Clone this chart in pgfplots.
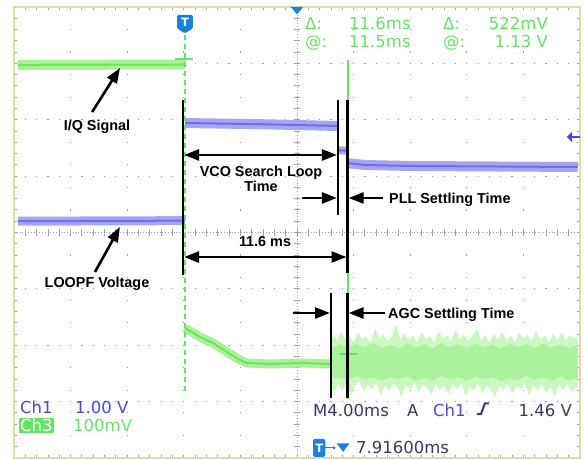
\documentclass[border=0pt]{standalone}
\usepackage{pgfplots}
\pgfplotsset{compat=1.18}
\usepackage{fontspec}
\setmainfont{Liberation Sans}
\newfontfamily\scopefont{DejaVu Sans}
\usetikzlibrary{arrows.meta}
\definecolor{grn}{RGB}{112,228,95}
\definecolor{grnl}{RGB}{168,241,150}
\definecolor{grnn}{RGB}{202,248,192}
\definecolor{grnm}{RGB}{170,242,156}
\definecolor{blu}{RGB}{110,110,232}
\definecolor{blul}{RGB}{165,165,243}
\definecolor{txtblue}{RGB}{70,70,230}
\definecolor{txtgreen}{RGB}{100,228,100}
\definecolor{scdark}{RGB}{55,55,105}
\definecolor{tblue}{RGB}{25,130,225}
\definecolor{gridc}{RGB}{155,155,195}
\definecolor{bord}{RGB}{228,218,165}
\newcommand\scopetxtfont{\scopefont\fontsize{16.5bp}{18bp}\selectfont}
\newcommand\annfont{\bfseries\fontsize{14.4bp}{15bp}\selectfont}
\newcommand\markfont{\scopefont\bfseries\fontsize{11.5bp}{12bp}\selectfont}
\tikzset{
  st/.style={font=\scopetxtfont, inner sep=0pt, text height=12bp, text depth=0bp},
  anntxt/.style={font=\annfont, text=black, inner sep=0pt, text height=10.5bp, text depth=0bp},
  arr/.style={line width=2.6bp, -{Triangle[length=15bp,width=11bp]}},
  darr/.style={line width=2.6bp, {Triangle[length=15bp,width=11bp]}-{Triangle[length=15bp,width=11bp]}},
}
\begin{document}
\begin{tikzpicture}
\begin{axis}[name=ax, scale only axis, width=566bp, height=451bp,
  xmin=-5, xmax=5, ymin=-4, ymax=4,
  axis line style={draw=none}, ticks=none, clip=false]
% ---------- graticule ----------
\pgfplotsinvokeforeach{-3,-2,-1,1,2,3}{
  \draw[gridc, line width=1.2bp, dash pattern=on 1.2bp off 10.12bp, dash phase=0.6bp] (axis cs:-5,#1) -- (axis cs:5,#1);}
\pgfplotsinvokeforeach{-4,-3,-2,-1,1,2,3,4}{
  \draw[gridc, line width=1.2bp, dash pattern=on 1.2bp off 21.35bp, dash phase=0.6bp] (axis cs:#1,-4) -- (axis cs:#1,4);}
\draw[gridc, line width=1bp, dash pattern=on 1bp off 1.8bp] (axis cs:-5,0) -- (axis cs:5,0);
\draw[gridc, line width=1bp, dash pattern=on 1bp off 1.8bp] (axis cs:0,-4) -- (axis cs:0,4);
\pgfplotsinvokeforeach{-4.8,-4.6,...,4.81}{
  \draw[gridc, line width=0.9bp] (axis cs:#1,-0.055) -- (axis cs:#1,0.055);
  \draw[gridc, line width=0.9bp] (axis cs:#1,4) -- (axis cs:#1,3.94);
  \draw[gridc, line width=0.9bp] (axis cs:#1,-4) -- (axis cs:#1,-3.94);}
\pgfplotsinvokeforeach{-3.8,-3.6,...,3.81}{
  \draw[gridc, line width=0.9bp] (axis cs:-0.055,#1) -- (axis cs:0.055,#1);
  \draw[gridc, line width=0.9bp] (axis cs:-5,#1) -- (axis cs:-4.94,#1);
  \draw[gridc, line width=0.9bp] (axis cs:5,#1) -- (axis cs:4.94,#1);}
\draw[bord, line width=1.5bp] (axis cs:-5,-4) rectangle (axis cs:5,4);
% ---------- Ch3 (green) trace ----------
\addplot[grnl, line width=10bp, forget plot] coordinates {(-4.93,2.97) (-3.5,2.975) (-1.98,2.98)};
\addplot[grn, line width=2bp, forget plot] coordinates {(-4.93,2.97) (-3.5,2.975) (-1.98,2.98)};
\addplot[grnl, line width=9bp, forget plot] coordinates {
 (-1.979,-1.694) (-1.714,-1.854) (-1.484,-1.960) (-1.237,-2.120) (-1.007,-2.262)
 (-0.883,-2.315) (-0.477,-2.333) (0.053,-2.315) (0.60,-2.333)};
\addplot[grn, line width=2bp, forget plot] coordinates {
 (-1.979,-1.694) (-1.714,-1.854) (-1.484,-1.960) (-1.237,-2.120) (-1.007,-2.262)
 (-0.883,-2.315) (-0.477,-2.333) (0.053,-2.315) (0.60,-2.333)};
% noisy part after AGC settles: outer envelope
\addplot[fill=grnn, draw=none, forget plot] coordinates {
 (0.60,-1.95) (0.65,-1.80) (0.70,-1.92) (0.78,-1.75) (0.85,-1.90) (0.92,-1.82) (1.00,-1.95)
 (1.08,-1.78) (1.15,-1.90) (1.22,-1.84) (1.30,-1.96) (1.38,-1.70) (1.45,-1.88) (1.52,-1.80)
 (1.60,-1.93) (1.68,-1.85) (1.75,-1.62) (1.82,-1.90) (1.90,-1.80) (1.98,-1.92) (2.05,-1.83)
 (2.12,-1.95) (2.20,-1.78) (2.28,-1.90) (2.35,-1.84) (2.42,-1.96) (2.50,-1.76) (2.58,-1.88)
 (2.65,-1.82) (2.72,-1.94) (2.80,-1.72) (2.88,-1.90) (2.95,-1.80) (3.02,-1.93) (3.10,-1.84)
 (3.18,-1.70) (3.25,-1.92) (3.32,-1.82) (3.40,-1.95) (3.48,-1.80) (3.55,-1.90) (3.62,-1.76)
 (3.70,-1.92) (3.78,-1.84) (3.85,-1.95) (3.92,-1.78) (4.00,-1.88) (4.08,-1.82) (4.15,-1.94)
 (4.22,-1.74) (4.30,-1.90) (4.38,-1.83) (4.45,-1.95) (4.52,-1.80) (4.60,-1.90) (4.68,-1.78)
 (4.75,-1.92) (4.82,-1.82) (4.90,-1.88) (4.96,-1.85)
 (4.96,-2.78) (4.92,-2.74) (4.85,-2.84) (4.78,-2.68) (4.70,-2.80) (4.62,-2.70) (4.55,-2.90)
 (4.48,-2.74) (4.40,-2.84) (4.32,-2.70) (4.25,-2.80) (4.18,-2.72) (4.10,-2.88) (4.02,-2.66)
 (3.95,-2.78) (3.88,-2.72) (3.80,-2.86) (3.72,-2.68) (3.65,-2.80) (3.58,-2.70) (3.50,-2.92)
 (3.42,-2.78) (3.35,-2.72) (3.28,-2.84) (3.20,-2.68) (3.12,-2.80) (3.05,-2.74) (2.98,-2.90)
 (2.90,-2.66) (2.82,-2.78) (2.75,-2.70) (2.68,-2.86) (2.60,-2.72) (2.52,-2.80) (2.45,-2.68)
 (2.38,-2.88) (2.30,-2.76) (2.22,-2.70) (2.15,-2.84) (2.08,-2.66) (2.00,-2.78) (1.92,-2.70)
 (1.85,-2.92) (1.78,-2.75) (1.70,-2.68) (1.63,-2.80) (1.55,-2.72) (1.48,-2.88) (1.40,-2.66)
 (1.33,-2.78) (1.25,-2.70) (1.18,-2.82) (1.10,-2.64) (1.02,-2.72) (0.95,-2.90) (0.88,-2.66)
 (0.80,-2.80) (0.72,-2.68) (0.66,-2.85) (0.60,-2.70)};
% inner denser band
\addplot[fill=grnm, draw=none, forget plot] coordinates {
 (0.60,-2.05) (0.75,-1.98) (0.90,-2.06) (1.05,-1.97) (1.20,-2.04) (1.35,-1.96) (1.50,-2.05)
 (1.65,-1.99) (1.80,-2.06) (1.95,-1.97) (2.10,-2.04) (2.25,-1.98) (2.40,-2.06) (2.55,-1.96)
 (2.70,-2.04) (2.85,-1.98) (3.00,-2.05) (3.15,-1.97) (3.30,-2.04) (3.45,-1.99) (3.60,-2.06)
 (3.75,-1.97) (3.90,-2.04) (4.05,-1.98) (4.20,-2.05) (4.35,-1.97) (4.50,-2.04) (4.65,-1.99)
 (4.80,-2.05) (4.96,-2.00)
 (4.96,-2.58) (4.80,-2.62) (4.65,-2.55) (4.50,-2.63) (4.35,-2.57) (4.20,-2.61) (4.05,-2.54)
 (3.90,-2.62) (3.75,-2.58) (3.60,-2.64) (3.45,-2.56) (3.30,-2.60) (3.15,-2.55) (3.00,-2.63)
 (2.85,-2.57) (2.70,-2.61) (2.55,-2.54) (2.40,-2.62) (2.25,-2.58) (2.10,-2.63) (1.95,-2.55)
 (1.80,-2.60) (1.65,-2.56) (1.50,-2.63) (1.35,-2.57) (1.20,-2.61) (1.05,-2.54) (0.90,-2.62)
 (0.75,-2.58) (0.60,-2.55)};
% ---------- Ch1 (blue) trace ----------
\addplot[blul, line width=9bp, forget plot] coordinates {(-4.93,0.20) (-3.5,0.205) (-1.98,0.21)};
\addplot[blu, line width=2bp, forget plot] coordinates {(-4.93,0.20) (-3.5,0.205) (-1.98,0.21)};
\addplot[blul, line width=10bp, forget plot] coordinates {(-1.979,1.942) (-0.6,1.92) (0.72,1.889)};
\addplot[blu, line width=2bp, forget plot] coordinates {(-1.979,1.942) (-0.6,1.92) (0.72,1.889)};
\addplot[blul, line width=8bp, forget plot] coordinates {(0.72,1.46) (0.892,1.45)};
\addplot[blu, line width=2bp, forget plot] coordinates {(0.72,1.46) (0.892,1.45)};
\addplot[blul, line width=10bp, forget plot] coordinates {(0.892,1.23) (1.2,1.197) (2.0,1.18) (4.96,1.162)};
\addplot[blu, line width=2bp, forget plot] coordinates {(0.892,1.23) (1.2,1.197) (2.0,1.18) (4.96,1.162)};
% Ch1 reference marker at right edge
\fill[txtblue] (axis cs:4.77,1.694) -- (axis cs:4.86,1.79) -- (axis cs:4.86,1.60) -- cycle;
\draw[txtblue, line width=2bp] (axis cs:4.85,1.694) -- (axis cs:5,1.694);
% ---------- cursors ----------
\draw[txtgreen, line width=2bp, dash pattern=on 5bp off 4bp] (axis cs:-1.979,3.5) -- (axis cs:-1.979,-2.87);
\draw[txtgreen, line width=1.6bp] (axis cs:0.901,3.06) -- (axis cs:0.901,-2.95);
\draw[txtgreen, line width=1.6bp] (axis cs:-2.155,3.078) -- (axis cs:-1.837,3.078);
\draw[txtgreen, line width=1.6bp] (axis cs:0.76,-2.155) -- (axis cs:1.06,-2.155);
% ---------- black annotation lines ----------
\draw[black, line width=2.2bp] (axis cs:-2.014,2.35) -- (axis cs:-2.014,-0.754);
\draw[black, line width=2.2bp] (axis cs:0.724,2.35) -- (axis cs:0.724,0.31);
\draw[black, line width=2.2bp] (axis cs:0.892,2.35) -- (axis cs:0.892,-0.718);
\draw[black, line width=2.2bp] (axis cs:0.601,-1.073) -- (axis cs:0.601,-2.936);
\draw[black, line width=2.2bp] (axis cs:0.892,-1.073) -- (axis cs:0.892,-2.936);
% arrows
\draw[arr] (axis cs:-3.62,2.137) -- (axis cs:-3.127,2.918);
\draw[arr] (axis cs:-3.569,-0.701) -- (axis cs:-3.127,0.098);
\draw[darr] (axis cs:-1.995,1.375) -- (axis cs:0.705,1.375);
\draw[darr] (axis cs:-1.995,-0.435) -- (axis cs:0.875,-0.435);
\draw[arr] (axis cs:0.088,0.612) -- (axis cs:0.705,0.612);
\draw[arr] (axis cs:1.519,0.612) -- (axis cs:0.912,0.612);
\draw[arr] (axis cs:-0.071,-1.428) -- (axis cs:0.583,-1.428);
\draw[arr] (axis cs:1.555,-1.428) -- (axis cs:0.912,-1.428);
% annotation texts
\node[anntxt] at (axis cs:-3.534,1.90) {I/Q Signal};
\node[anntxt] at (axis cs:-3.534,-0.878) {LOOPF Voltage};
\node[anntxt] at (axis cs:-0.636,1.091) {VCO Search Loop};
\node[anntxt] at (axis cs:-0.636,0.825) {Time};
\node[anntxt, anchor=west] at (axis cs:1.625,0.612) {PLL Settling Time};
\node[anntxt] at (axis cs:-0.565,-0.151) {11.6 ms};
\node[anntxt, anchor=west] at (axis cs:1.608,-1.428) {AGC Settling Time};
% ---------- scope readouts ----------
\node[st, text=txtgreen, anchor=west] at (axis cs:0.141,3.711) {Δ:};
\node[st, text=txtgreen, anchor=west] at (axis cs:0.919,3.711) {11.6ms};
\node[st, text=txtgreen, anchor=west] at (axis cs:2.580,3.711) {Δ:};
\node[st, text=txtgreen, anchor=east] at (axis cs:4.435,3.711) {522mV};
\node[st, text=txtgreen, anchor=west] at (axis cs:0.141,3.385) {@:};
\node[st, text=txtgreen, anchor=west] at (axis cs:0.919,3.385) {11.5ms};
\node[st, text=txtgreen, anchor=west] at (axis cs:2.580,3.385) {@:};
\node[st, text=txtgreen, anchor=east] at (axis cs:4.435,3.385) {1.13 V};
\node[st, text=txtblue, anchor=west] at (axis cs:-4.894,-3.104) {Ch1};
\node[st, text=txtblue, anchor=west] at (axis cs:-3.922,-3.104) {1.00 V};
\node[st, text=white, fill=txtgreen, inner sep=1.5bp, anchor=west] at (axis cs:-4.92,-3.427) {Ch3};
\node[st, text=txtgreen, anchor=west] at (axis cs:-3.957,-3.427) {100mV};
\node[st, text=scdark, anchor=west] at (axis cs:0.283,-3.149) {M4.00ms};
\node[st, text=scdark, anchor=west] at (axis cs:1.943,-3.149) {A};
\node[st, text=txtblue, anchor=west] at (axis cs:2.403,-3.149) {Ch1};
\draw[scdark, line width=2bp] (axis cs:3.18,-3.22) -- (axis cs:3.25,-3.22) -- (axis cs:3.32,-3.03) -- (axis cs:3.39,-3.03);
\node[st, text=scdark, anchor=east] at (axis cs:4.859,-3.149) {1.46 V};
% trigger position readout
\fill[tblue, rounded corners=1.5bp] (axis cs:0.283,-3.66) rectangle (axis cs:0.50,-3.98);
\node[font=\markfont, text=white, inner sep=0pt] at (axis cs:0.392,-3.82) {T};
\draw[tblue, line width=1.2bp, -{Triangle[length=3bp,width=3bp]}] (axis cs:0.50,-3.82) -- (axis cs:0.69,-3.82);
\fill[tblue] (axis cs:0.70,-3.74) -- (axis cs:0.93,-3.74) -- (axis cs:0.815,-3.89) -- cycle;
\node[st, text=scdark, anchor=west] at (axis cs:1.042,-3.82) {7.91600ms};
% trigger marker at top and horizontal position marker
\fill[tblue, rounded corners=1.5bp] (axis cs:-2.12,3.86) -- (axis cs:-1.84,3.86) -- (axis cs:-1.84,3.62) -- (axis cs:-1.979,3.53) -- (axis cs:-2.12,3.62) -- cycle;
\node[font=\markfont, text=white, inner sep=0pt] at (axis cs:-1.979,3.73) {T};
\fill[tblue] (axis cs:-0.11,4) -- (axis cs:0.11,4) -- (axis cs:0,3.87) -- cycle;
\end{axis}
\path ([xshift=-14bp]ax.south west) rectangle ([xshift=4bp,yshift=7bp]ax.north east);
\end{tikzpicture}
\end{document}
